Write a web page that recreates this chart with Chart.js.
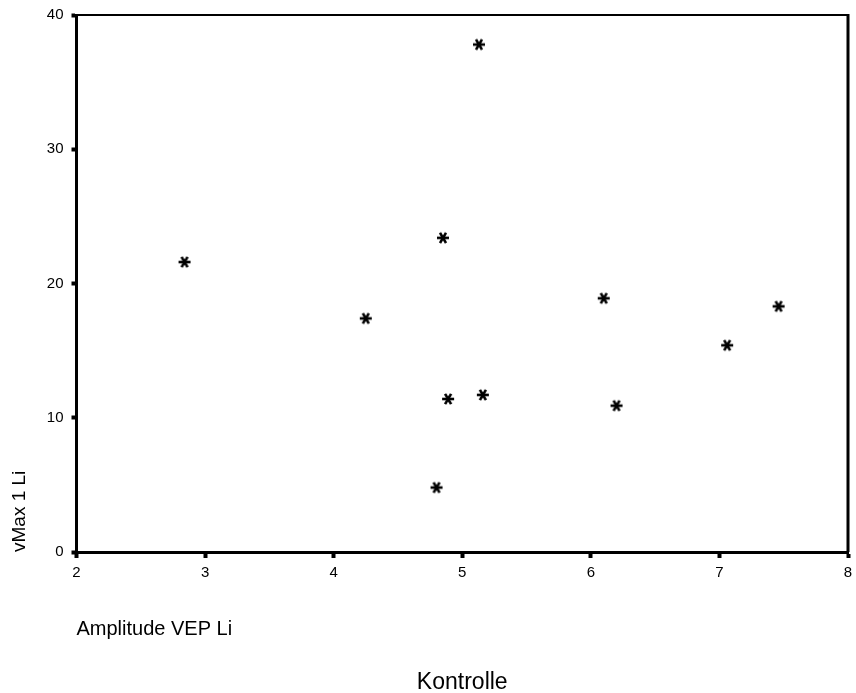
<!DOCTYPE html>
<html>
<head>
<meta charset="utf-8">
<title>Kontrolle</title>
<script src="https://cdn.jsdelivr.net/npm/chart.js@4/dist/chart.umd.min.js"></script>
<style>
  html, body { margin: 0; padding: 0; background: #fff; }
  #wrap { width: 856px; height: 693px; }
</style>
</head>
<body>
<div id="wrap"><canvas id="scatter" width="856" height="693"></canvas></div>
<script>
// Kontrolle group: Amplitude VEP Li vs. vMax 1 Li
const ampVepLi = [2.84, 5.13, 4.85, 4.25, 6.10, 7.46, 7.06, 4.89, 5.16, 6.20, 4.80];
const vMax1Li  = [21.6, 37.8, 23.4, 17.4, 18.9, 18.3, 15.4, 11.4, 11.7, 10.9, 4.8];

const xTicks = [2, 3, 4, 5, 6, 7, 8];
const yTicks = [0, 10, 20, 30, 40];

const FONT = "'Liberation Sans', Arial, Helvetica, sans-serif";

// asterisk marker (horizontal bar + two diagonals)
function makeAsterisk(size, lw) {
  const c = document.createElement('canvas');
  c.width = size;
  c.height = size;
  const g = c.getContext('2d');
  const r = size / 2 - 1;
  g.strokeStyle = '#000';
  g.lineWidth = lw;
  g.lineCap = 'butt';
  g.translate(size / 2, size / 2);
  [0, 60, 120].forEach(deg => {
    const a = deg * Math.PI / 180;
    g.beginPath();
    g.moveTo(-r * Math.cos(a), -r * Math.sin(a));
    g.lineTo(r * Math.cos(a), r * Math.sin(a));
    g.stroke();
  });
  return c;
}

const points = ampVepLi.map((x, i) => ({ x: x, y: vMax1Li[i] }));

// top and right edges of the frame, plus the group caption
const framePlugin = {
  id: 'frame',
  afterDraw(chart) {
    const { ctx, chartArea: a } = chart;
    ctx.save();
    ctx.strokeStyle = '#000';
    ctx.lineWidth = 2;
    ctx.beginPath();
    ctx.moveTo(a.left, a.top);
    ctx.lineTo(a.right, a.top);
    ctx.stroke();
    ctx.lineWidth = 3;
    ctx.beginPath();
    ctx.moveTo(a.right, a.top - 1);
    ctx.lineTo(a.right, a.bottom);
    ctx.stroke();

    ctx.fillStyle = '#000';
    ctx.font = '23px ' + FONT;
    ctx.textAlign = 'center';
    ctx.textBaseline = 'alphabetic';
    ctx.fillText('Kontrolle', (a.left + a.right) / 2, 689);
    ctx.restore();
  }
};

const ctx = document.getElementById('scatter');

new Chart(ctx, {
  type: 'scatter',
  data: {
    datasets: [{
      label: 'Kontrolle',
      data: points,
      pointStyle: makeAsterisk(14, 2.6),
      pointRadius: 7,
      pointHoverRadius: 7
    }]
  },
  options: {
    responsive: false,
    animation: false,
    layout: {
      padding: { top: 15, right: 7, left: 0, bottom: 0 }
    },
    plugins: {
      legend: { display: false },
      tooltip: { enabled: false },
      title: { display: false }
    },
    scales: {
      x: {
        type: 'linear',
        min: 2,
        max: 8,
        afterFit: scale => {
          scale.height = 141;
          scale.paddingLeft = 0;
          scale.paddingRight = 0;
        },
        afterBuildTicks: scale => { scale.ticks = xTicks.map(v => ({ value: v })); },
        border: { display: true, color: '#000', width: 3 },
        grid: {
          display: true,
          drawOnChartArea: false,
          drawTicks: true,
          tickLength: 6,
          tickWidth: 4,
          tickColor: '#000'
        },
        ticks: {
          color: '#000',
          padding: 6,
          maxRotation: 0,
          font: { family: FONT, size: 15 }
        },
        title: {
          display: true,
          text: 'Amplitude VEP Li',
          align: 'start',
          color: '#000',
          font: { family: FONT, size: 20 },
          padding: { top: 0, bottom: 52 }
        }
      },
      y: {
        type: 'linear',
        min: 0,
        max: 40,
        afterFit: scale => {
          scale.width = 76.5;
          scale.paddingTop = 0;
          scale.paddingBottom = 0;
        },
        afterBuildTicks: scale => { scale.ticks = yTicks.map(v => ({ value: v })); },
        border: { display: true, color: '#000', width: 3 },
        grid: {
          display: true,
          drawOnChartArea: false,
          drawTicks: true,
          tickLength: 5,
          tickWidth: 4,
          tickColor: '#000'
        },
        ticks: {
          color: '#000',
          padding: 8,
          font: { family: FONT, size: 15 }
        },
        title: {
          display: true,
          text: 'vMax 1 Li',
          align: 'start',
          color: '#000',
          font: { family: FONT, size: 19 },
          padding: { top: 8, bottom: 0 }
        }
      }
    }
  },
  plugins: [framePlugin]
});
</script>
</body>
</html>
